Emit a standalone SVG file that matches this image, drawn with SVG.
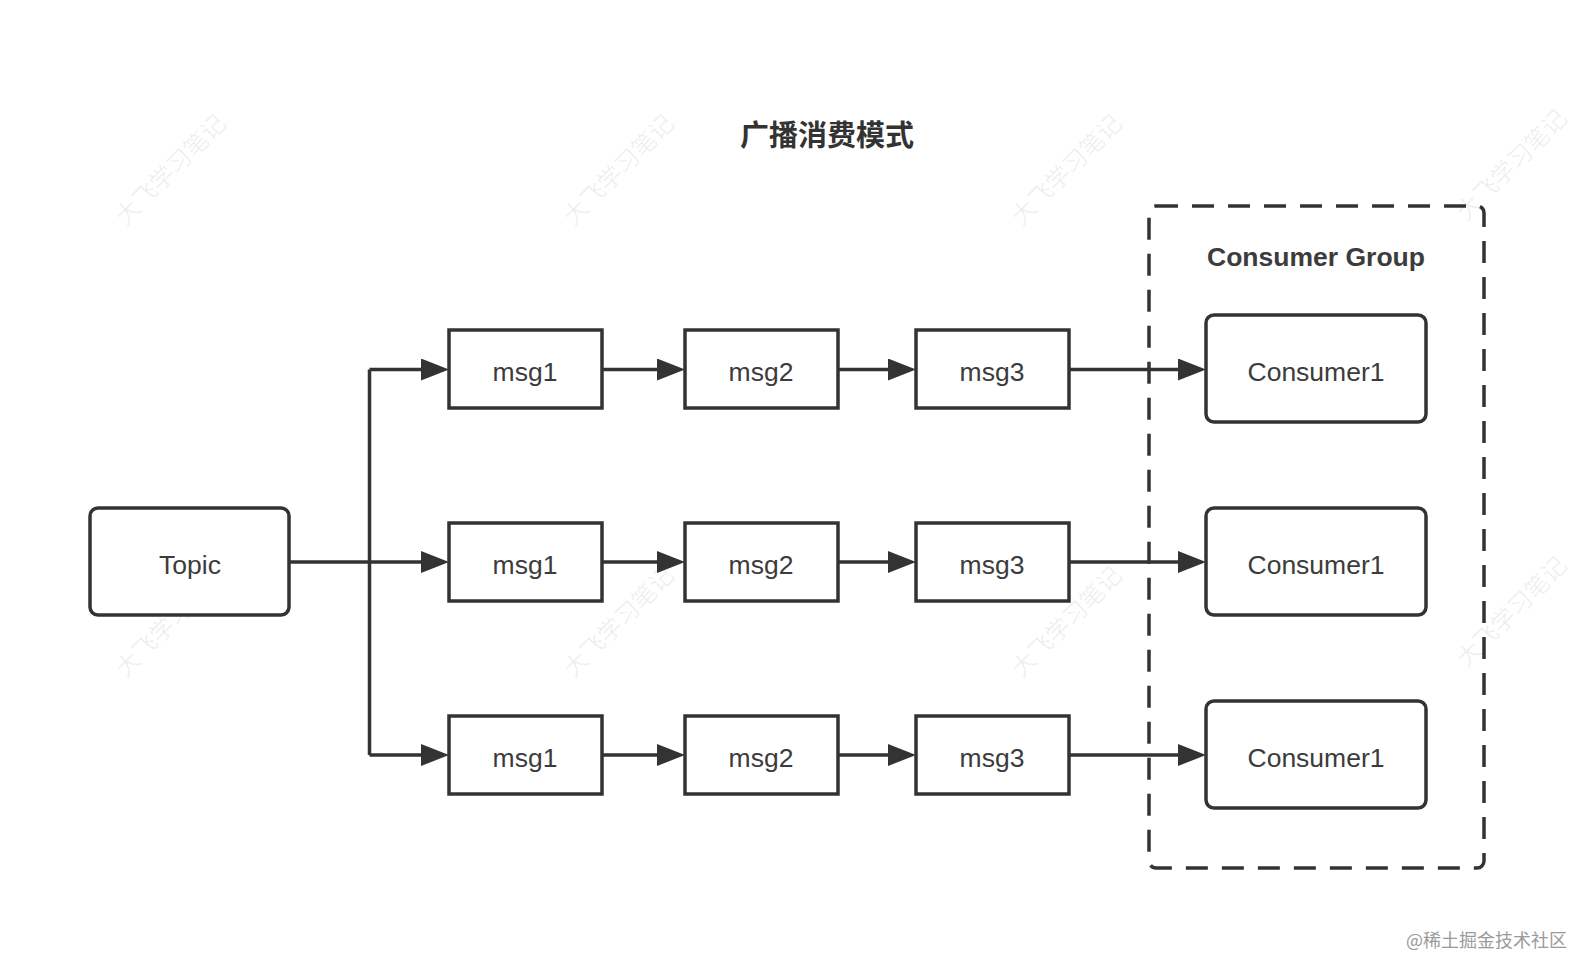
<svg xmlns="http://www.w3.org/2000/svg" width="1575" height="960" viewBox="0 0 1575 960">
<style>
.wm{font-family:"Noto Sans CJK SC","Noto Sans",sans-serif;font-size:24px;fill:#000;fill-opacity:0.07;text-anchor:middle}
.box{fill:#fff;stroke:#333;stroke-width:3.5}
.lbl{font-family:"Liberation Sans",Arial,sans-serif;font-size:26.5px;fill:#3c3c3c;text-anchor:middle}
.conn{fill:none;stroke:#333;stroke-width:3.5}
</style>
<defs>
<marker id="arr" markerUnits="userSpaceOnUse" markerWidth="28" markerHeight="22" refX="20" refY="11" orient="auto">
<path d="M0,0 L28,11 L0,22 z" fill="#333"/>
</marker>
</defs>
<rect width="1575" height="960" fill="#fff"/>
<g id="watermarks">
<text class="wm" transform="translate(171,170) rotate(-45)" dy="8">大飞学习笔记</text>
<text class="wm" transform="translate(619,170) rotate(-45)" dy="8">大飞学习笔记</text>
<text class="wm" transform="translate(1067,170) rotate(-45)" dy="8">大飞学习笔记</text>
<text class="wm" transform="translate(1512,165) rotate(-45)" dy="8">大飞学习笔记</text>
<text class="wm" transform="translate(171,622) rotate(-45)" dy="8">大飞学习笔记</text>
<text class="wm" transform="translate(619,622) rotate(-45)" dy="8">大飞学习笔记</text>
<text class="wm" transform="translate(1067,622) rotate(-45)" dy="8">大飞学习笔记</text>
<text class="wm" transform="translate(1512,612) rotate(-45)" dy="8">大飞学习笔记</text>
</g>
<text id="title" x="827" y="146" font-family="'Noto Sans CJK SC',sans-serif" font-size="29" font-weight="bold" fill="#333" text-anchor="middle">广播消费模式</text>
<g id="consumer-group">
<rect x="1149" y="206" width="335" height="662" rx="7" fill="none" stroke="#333" stroke-width="3.5" stroke-dasharray="22 14"/>
<text x="1316" y="266" font-family="'Liberation Sans',Arial,sans-serif" font-size="26.5" font-weight="bold" fill="#3c3c3c" text-anchor="middle">Consumer Group</text>
</g>
<g id="connectors">
<path class="conn" d="M290,562 H369.5"/>
<path class="conn" d="M369.5,369.5 V755"/>
<path class="conn" d="M369.5,369.5 H441" marker-end="url(#arr)"/>
<path class="conn" d="M369.5,562 H441" marker-end="url(#arr)"/>
<path class="conn" d="M369.5,755 H441" marker-end="url(#arr)"/>
<path class="conn" d="M603,369.5 H677" marker-end="url(#arr)"/>
<path class="conn" d="M603,562 H677" marker-end="url(#arr)"/>
<path class="conn" d="M603,755 H677" marker-end="url(#arr)"/>
<path class="conn" d="M838,369.5 H908" marker-end="url(#arr)"/>
<path class="conn" d="M838,562 H908" marker-end="url(#arr)"/>
<path class="conn" d="M838,755 H908" marker-end="url(#arr)"/>
<path class="conn" d="M1070,369.5 H1198" marker-end="url(#arr)"/>
<path class="conn" d="M1070,562 H1198" marker-end="url(#arr)"/>
<path class="conn" d="M1070,755 H1198" marker-end="url(#arr)"/>
</g>
<g id="topic"><rect class="box" x="90" y="508" width="199" height="107" rx="8"/><text class="lbl" x="190" y="574">Topic</text></g>
<g id="msg1-r1"><rect class="box" x="449" y="330" width="153" height="78"/><text class="lbl" x="525" y="381">msg1</text></g>
<g id="msg2-r1"><rect class="box" x="685" y="330" width="153" height="78"/><text class="lbl" x="761" y="381">msg2</text></g>
<g id="msg3-r1"><rect class="box" x="916" y="330" width="153" height="78"/><text class="lbl" x="992" y="381">msg3</text></g>
<g id="msg1-r2"><rect class="box" x="449" y="523" width="153" height="78"/><text class="lbl" x="525" y="574">msg1</text></g>
<g id="msg2-r2"><rect class="box" x="685" y="523" width="153" height="78"/><text class="lbl" x="761" y="574">msg2</text></g>
<g id="msg3-r2"><rect class="box" x="916" y="523" width="153" height="78"/><text class="lbl" x="992" y="574">msg3</text></g>
<g id="msg1-r3"><rect class="box" x="449" y="716" width="153" height="78"/><text class="lbl" x="525" y="767">msg1</text></g>
<g id="msg2-r3"><rect class="box" x="685" y="716" width="153" height="78"/><text class="lbl" x="761" y="767">msg2</text></g>
<g id="msg3-r3"><rect class="box" x="916" y="716" width="153" height="78"/><text class="lbl" x="992" y="767">msg3</text></g>
<g id="consumer1-r1"><rect class="box" x="1206" y="315" width="220" height="107" rx="8"/><text class="lbl" x="1316" y="381">Consumer1</text></g>
<g id="consumer1-r2"><rect class="box" x="1206" y="508" width="220" height="107" rx="8"/><text class="lbl" x="1316" y="574">Consumer1</text></g>
<g id="consumer1-r3"><rect class="box" x="1206" y="701" width="220" height="107" rx="8"/><text class="lbl" x="1316" y="767">Consumer1</text></g>
<text id="credit" x="1567" y="947" font-family="'Noto Sans CJK SC',sans-serif" font-size="18" fill="#9a9a9a" text-anchor="end">@稀土掘金技术社区</text>
</svg>
